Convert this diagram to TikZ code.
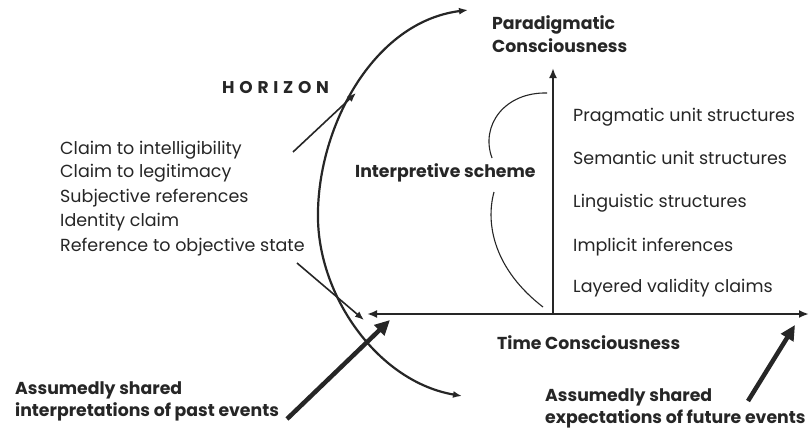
\documentclass[tikz,border=0pt]{standalone}
\usepackage{fontspec}
\setmainfont{Poppins}
\usetikzlibrary{arrows.meta}
\definecolor{ink}{HTML}{262626}
\begin{document}
\begin{tikzpicture}[x=1pt,y=-1pt,
  every node/.style={inner sep=0pt,text=ink},
  plain/.style={font=\fontsize{17.5}{21}\selectfont,anchor=west},
  heavy/.style={font=\fontsize{17.3}{22.5}\selectfont\bfseries,anchor=west,align=left},
  thin/.style={draw=ink,line width=1.6pt,-{Latex[length=9pt,width=7pt]}},
  bold/.style={draw=ink,line width=4.5pt,-{Triangle[length=15pt,width=14pt]}},
  axis/.style={draw=ink,line width=2.4pt},
  paren/.style={draw=ink,line width=1.1pt}]
\useasboundingbox (0,0) rectangle (809,434);
\fill[white] (0,0) rectangle (809,434);

% headings
\node[heavy] (para) at (492,34) {Paradigmatic\\Consciousness};
\node[heavy] (scheme) at (355,173) {Interpretive scheme};
\node[heavy] (time) at (497,343) {Time Consciousness};
\node[font=\fontsize{17}{20}\selectfont\bfseries\addfontfeatures{LetterSpace=28},anchor=west] (hor) at (222,88) {HORIZON};

% validity claims
\node[plain] (c1) at (60,150) {Claim to intelligibility};
\node[plain] (c2) at (60,173) {Claim to legitimacy};
\node[plain] (c3) at (60,198) {Subjective references};
\node[plain] (c4) at (60,222) {Identity claim};
\node[plain] (c5) at (60,247) {Reference to objective state};

% structure levels
\node[plain] (s1) at (573,117) {Pragmatic unit structures};
\node[plain] (s2) at (573,158) {Semantic unit structures};
\node[plain] (s3) at (573,203) {Linguistic structures};
\node[plain] (s4) at (573,247) {Implicit inferences};
\node[plain] (s5) at (573,288) {Layered validity claims};

% shared assumptions
\node[heavy] (past) at (15,401.5) {Assumedly shared\\interpretations of past events};
\node[heavy] (future) at (545,408.5) {Assumedly shared\\expectations of future events};

% axes
\coordinate (tl) at (367,314);
\coordinate (tr) at (809,314);
\coordinate (vb) at (553,313);
\coordinate (vt) at (553,68);
\draw[axis,{Latex[length=10pt,width=8pt]}-{Latex[length=10pt,width=8pt]}] (tl) -- (tr);
\draw[axis,-{Latex[length=10pt,width=8pt]}] (vb) -- (vt);

% horizon arc
\coordinate (hb) at (462,396);
\coordinate (hm) at (318,220);
\coordinate (ht) at (468,10);
\draw[draw=ink,line width=2.2pt,{Latex[length=9pt,width=7pt]}-{Latex[length=9pt,width=7pt]}]
  (hb) .. controls (380,382) and (320,300) .. (hm)
       .. controls (316,130) and (372,22) .. (ht);

% interpretive scheme bracket
\coordinate (pt) at (547,93);
\coordinate (pm1) at (492,158);
\coordinate (pm2) at (494,192);
\coordinate (pb) at (543,307);
\draw[paren] (pt) .. controls (505,92) and (480,125) .. (pm1);
\draw[paren] (pm2) .. controls (485,225) and (495,270) .. (pb);

% pointers
\coordinate (a1s) at (293,152);
\coordinate (a1e) at (356,93);
\coordinate (a2s) at (297,263);
\coordinate (a2e) at (364,320);
\draw[thin] (a1s) -- (a1e);
\draw[thin] (a2s) -- (a2e);

\coordinate (b1s) at (287,419);
\coordinate (b1e) at (390,320);
\coordinate (b2s) at (748,401);
\coordinate (b2e) at (795,325);
\draw[bold] (b1s) -- (b1e);
\draw[bold] (b2s) -- (b2e);
\end{tikzpicture}
\end{document}
